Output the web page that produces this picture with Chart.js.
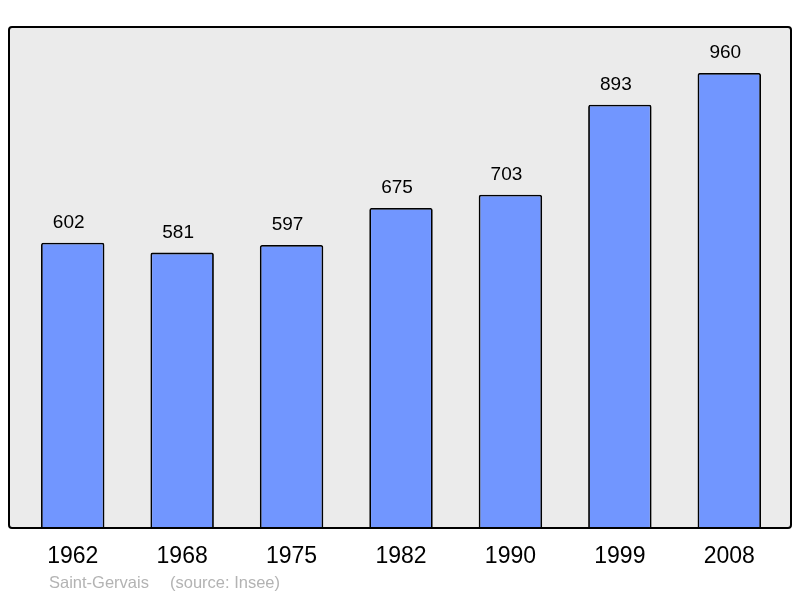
<!DOCTYPE html>
<html>
<head>
<meta charset="utf-8">
<script src="https://cdn.jsdelivr.net/npm/chart.js@4"></script>
<style>
  html, body { margin: 0; padding: 0; background: #fff; }
  #wrap { position: relative; width: 800px; height: 598px; }
</style>
</head>
<body>
<div id="wrap"><canvas id="c" width="800" height="598"></canvas></div>
<script>
var years = ["1962", "1968", "1975", "1982", "1990", "1999", "2008"];
var population = [602, 581, 597, 675, 703, 893, 960];
var yMax = 1057;
var placeName = "Saint-Gervais";
var sourceText = "(source: Insee)";

var FONT = "'Liberation Sans', Arial, sans-serif";

// fond gris + cadre autour de la zone du graphe
var frame = {
    id: "frame",
    beforeDraw: function (chart) {
        var ctx = chart.ctx, a = chart.chartArea;
        ctx.save();
        ctx.fillStyle = "#ebebeb";
        ctx.beginPath();
        ctx.roundRect(9, a.top, 782, a.bottom - a.top, 3);
        ctx.fill();
        ctx.restore();
    },
    afterDatasetsDraw: function (chart) {
        var ctx = chart.ctx, a = chart.chartArea;
        ctx.save();
        ctx.strokeStyle = "#000";
        ctx.lineWidth = 2;
        ctx.beginPath();
        ctx.roundRect(9, a.top, 782, a.bottom - a.top, 3);
        ctx.stroke();

        // valeurs au-dessus des barres
        ctx.fillStyle = "#000";
        ctx.font = "19px " + FONT;
        ctx.textAlign = "center";
        ctx.textBaseline = "alphabetic";
        chart.getDatasetMeta(0).data.forEach(function (bar, i) {
            ctx.fillText(String(population[i]), bar.x - 4, bar.y - 15);
        });

        // source
        ctx.fillStyle = "#b3b3b3";
        ctx.font = "16.5px " + FONT;
        ctx.textAlign = "left";
        ctx.fillText(placeName, 49, 588);
        ctx.fillText(sourceText, 170, 588);
        ctx.restore();
    }
};

new Chart(document.getElementById("c"), {
    type: "bar",
    data: {
        labels: years,
        datasets: [{
            data: population,
            backgroundColor: "#7196ff",
            borderColor: "#000",
            borderWidth: 1.8,
            borderSkipped: "bottom",
            borderRadius: 2,
            barPercentage: 0.58,
            categoryPercentage: 1
        }]
    },
    options: {
        responsive: false,
        animation: false,
        devicePixelRatio: 1,
        layout: { padding: { left: 18, right: 16, top: 27, bottom: 0 } },
        plugins: { legend: { display: false }, tooltip: { enabled: false } },
        scales: {
            x: {
                grid: { display: false },
                border: { display: false },
                ticks: { color: "#000", font: { family: FONT, size: 23 }, padding: 7 },
                afterFit: function (s) { s.height = 70; }
            },
            y: { display: false, min: 0, max: yMax }
        }
    },
    plugins: [frame]
});
</script>
</body>
</html>
